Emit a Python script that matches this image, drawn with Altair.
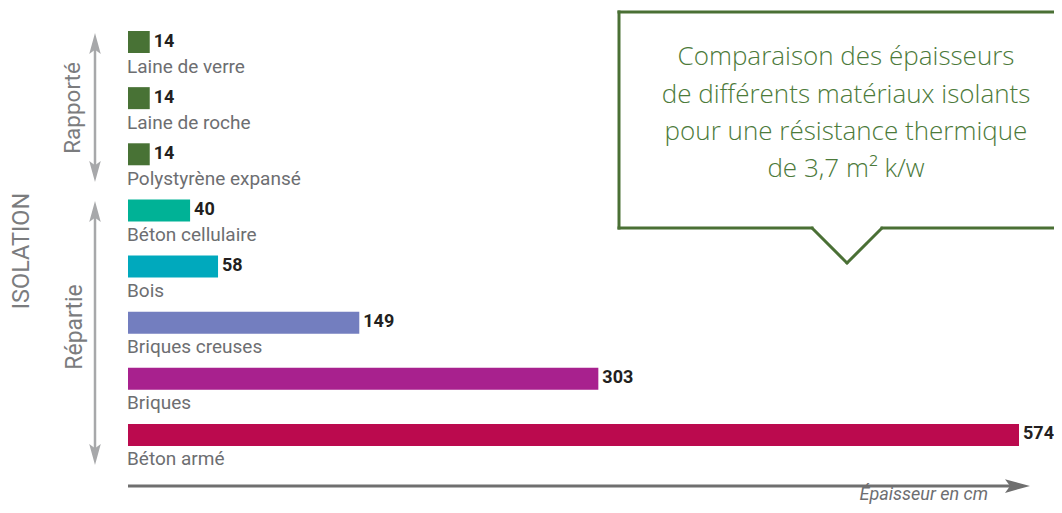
import altair as alt
import pandas as pd

materials = ["Laine de verre", "Laine de roche", "Polystyrène expansé", "Béton cellulaire",
             "Bois", "Briques creuses", "Briques", "Béton armé"]
values = [14, 14, 14, 40, 58, 149, 303, 574]
colors = ["#487235", "#487235", "#487235", "#00b296", "#00a9bd", "#737ebf", "#a8218e", "#bb0a4e"]
title_lines = ["Comparaison des épaisseurs", "de différents matériaux isolants",
               "pour une résistance thermique", "de 3,7 m² k/w"]
group_labels = ["Rapporté", "Répartie"]
side_label = "ISOLATION"
axis_label = "Épaisseur en cm"

df = pd.DataFrame({"mat": materials, "val": values, "col": colors})
one = pd.DataFrame({"a": [0]})

M = 8  # page margin


def P(v):
    return v - M


xs = alt.Scale(domain=[0, 574], range=[P(128), P(1019)], nice=False, zero=True)
ys = alt.Scale(domain=materials, range=[P(31), P(446)], paddingInner=0.60814, paddingOuter=0)

base = alt.Chart(df)
X = alt.X("val:Q", scale=xs, axis=None)
Y = alt.Y("mat:N", scale=ys, axis=None, sort=materials)

bars = base.mark_bar().encode(x=X, y=Y, color=alt.Color("col:N", scale=None))
vals = base.mark_text(align="left", baseline="alphabetic", dx=4, dy=4.5, font="Roboto",
                      fontWeight="bold", fontSize=18, color="#231f20").encode(
    x=X, y=Y, text=alt.Text("val:Q"))
labs = base.mark_text(align="left", baseline="alphabetic", dx=-1, dy=30.5, font="Roboto",
                      fontSize=19, color="#6d6e71").encode(
    x=alt.datum(0, scale=xs), y=Y, text="mat:N")

layers = [bars, vals, labs]

gray_arrow = "#a7a8aa"
up = "M0,-1 L0.55,1 L0,0.6 L-0.55,1 Z"
down = "M0,1 L0.55,-1 L0,-0.6 L-0.55,-1 Z"
right = "M1,0 L-1,-0.55 L-0.6,0 L-1,0.55 Z"


def vrule(x, y1, y2, color, w):
    return alt.Chart(one).mark_rule(color=color, strokeWidth=w).encode(
        x=alt.value(P(x)), y=alt.value(P(y1)), y2=alt.value(P(y2)))


def seg(x1, y1, x2, y2, color, w, cap="round"):
    return alt.Chart(one).mark_rule(color=color, strokeWidth=w, strokeCap=cap).encode(
        x=alt.value(P(x1)), y=alt.value(P(y1)), x2=alt.value(P(x2)), y2=alt.value(P(y2)))


def head(x, y, shape, size, color):
    return alt.Chart(one).mark_point(shape=shape, size=size, filled=True, fill=color,
                                     strokeWidth=0, opacity=1).encode(
        x=alt.value(P(x)), y=alt.value(P(y)))


def txt(s, x, y, **kw):
    return alt.Chart(one).mark_text(text=s, **kw).encode(x=alt.value(P(x)), y=alt.value(P(y)))


# vertical group arrows
for (t1, t2) in [(33, 182), (201, 465)]:
    layers.append(vrule(95, t1 + 15, t2 - 15, gray_arrow, 2.5))
    layers.append(head(95, t1 + 10.5, up, 441, gray_arrow))
    layers.append(head(95, t2 - 10.5, down, 441, gray_arrow))

layers.append(txt(group_labels[0], 73, 108, angle=270, align="center", baseline="middle",
                  font="Roboto", fontSize=22.5, color="#7b7c7e"))
layers.append(txt(group_labels[1], 75, 327, angle=270, align="center", baseline="middle",
                  font="Roboto", fontSize=23, color="#7b7c7e"))
layers.append(txt(side_label, 22, 251, angle=270, align="center", baseline="middle",
                  font="Roboto", fontSize=23.5, color="#7b7c7e"))

# bottom axis arrow
axc = "#6f6f6f"
layers.append(seg(128, 486, 1012, 486, axc, 3, cap="butt"))
layers.append(head(1017.5, 486, right, 625, axc))
layers.append(txt(axis_label, 988, 500, align="right", baseline="alphabetic", font="Roboto",
                  fontStyle="italic", fontSize=18, color="#6d6e71"))

# speech bubble
gc = "#4a7035"
layers.append(seg(619, 12, 619, 228, gc, 3, cap="square"))
layers.append(seg(619, 12, 1075, 12, gc, 3, cap="square"))
layers.append(seg(619, 228, 812, 228, gc, 3, cap="square"))
layers.append(seg(882, 228, 1075, 228, gc, 3, cap="square"))
layers.append(seg(812, 228, 847, 263, gc, 3))
layers.append(seg(847, 263, 882, 228, gc, 3))

for line, yb in zip(title_lines, [65, 103, 140, 177]):
    layers.append(txt(line, 846, yb, align="center", baseline="alphabetic", font="Open Sans",
                      fontWeight=300, fontSize=26, color="#4c7a3a"))

chart = alt.layer(*layers).properties(
    width=1046, height=497, padding=0, autosize=alt.AutoSizeParams(type="none")
).configure_view(stroke=None)

chart.save("out.html", embed_options={"renderer": "svg", "actions": False})
